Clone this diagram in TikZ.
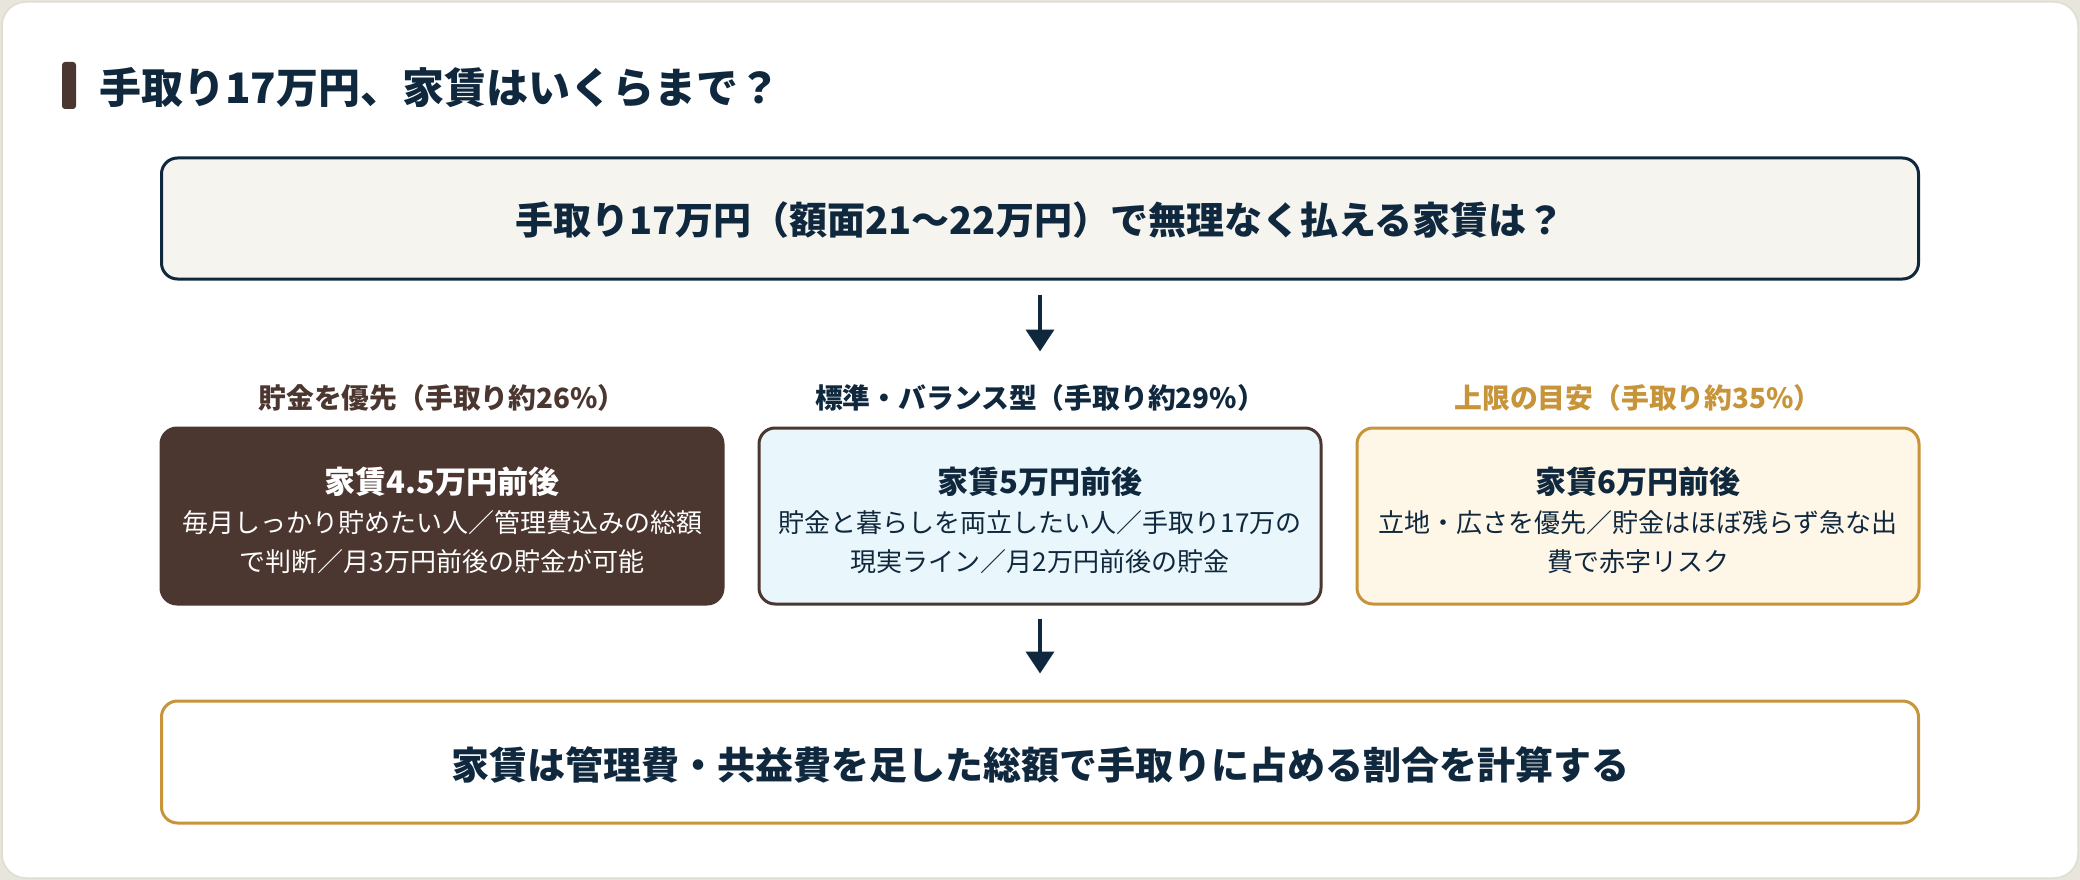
\documentclass[tikz,border=0pt]{standalone}
\usepackage{fontspec}
\setmainfont{Noto Sans CJK JP}
\usetikzlibrary{arrows.meta}
\definecolor{navy}{HTML}{10283D}
\definecolor{brown}{HTML}{4B3630}
\definecolor{gold}{HTML}{C8943A}
\definecolor{lightblue}{HTML}{E9F7FC}
\definecolor{cream}{HTML}{FEF6E7}
\definecolor{topfill}{HTML}{F5F4EF}
\definecolor{bgcol}{HTML}{E7E5DC}
\definecolor{cardline}{HTML}{E0DDD1}
\begin{document}
\begin{tikzpicture}[x=1pt,y=-1pt,
  wide/.style={line width=3pt, rounded corners=16pt, inner sep=0pt, minimum width=1757pt, minimum height=121pt},
  card/.style={line width=3pt, rounded corners=16pt, inner sep=0pt, minimum width=562pt, minimum height=176pt},
  arr/.style={draw=navy, line width=4pt, -{Triangle[length=22pt,width=28pt]}},
  bigtxt/.style={font=\fontsize{38}{44}\selectfont\bfseries, text=navy, inner sep=0pt},
  labtxt/.style={font=\fontsize{27.8}{32}\selectfont\bfseries, inner sep=0pt},
  headtxt/.style={font=\fontsize{31}{36}\selectfont\bfseries, inner sep=0pt},
  bodytxt/.style={font=\fontsize{26}{30}\selectfont, inner sep=0pt}
]
\useasboundingbox (0,0) rectangle (2080,880);
\fill[bgcol] (0,0) rectangle (2080,880);
\draw[cardline, fill=white, line width=1.5pt, rounded corners=24pt] (2,2) rectangle (2078,878);

% title
\fill[brown, rounded corners=3pt] (62,62) rectangle (76,109);
\node[anchor=west, font=\fontsize{42}{50}\selectfont\bfseries, text=navy, inner sep=0pt] (title) at (99,88) {手取り17万円、家賃はいくらまで？};

% top box
\node[wide, draw=navy, fill=topfill] (top) at (1040,218.5) {};
\node[bigtxt] (toptxt) at (1040,220) {手取り17万円（額面21〜22万円）で無理なく払える家賃は？};

% middle row
\node[card, draw=brown, fill=brown] (b1) at (442,516) {};
\node[card, draw=brown, fill=lightblue] (b2) at (1040,516) {};
\node[card, draw=gold, fill=cream] (b3) at (1638,516) {};

\node[labtxt, text=brown] (l1) at (442,398) {貯金を優先（手取り約26\%）};
\node[labtxt, text=navy] (l2) at (1040,398) {標準・バランス型（手取り約29\%）};
\node[labtxt, text=gold] (l3) at (1638,398) {上限の目安（手取り約35\%）};

\node[headtxt, text=white] (h1) at (442,482) {家賃4.5万円前後};
\node[headtxt, text=navy] (h2) at (1040,482) {家賃5万円前後};
\node[headtxt, text=navy] (h3) at (1638,482) {家賃6万円前後};

\node[bodytxt, text=white] (t1a) at (442,523) {毎月しっかり貯めたい人／管理費込みの総額};
\node[bodytxt, text=white] (t1b) at (442,562) {で判断／月3万円前後の貯金が可能};
\node[bodytxt, text=navy] (t2a) at (1040,523) {貯金と暮らしを両立したい人／手取り17万の};
\node[bodytxt, text=navy] (t2b) at (1040,562) {現実ライン／月2万円前後の貯金};
\node[bodytxt, text=navy] (t3a) at (1638,523) {立地・広さを優先／貯金はほぼ残らず急な出};
\node[bodytxt, text=navy] (t3b) at (1638,562) {費で赤字リスク};

% bottom box
\node[wide, draw=gold, fill=white, minimum height=122pt] (bot) at (1040,762) {};
\node[bigtxt] (bottxt) at (1040,765) {家賃は管理費・共益費を足した総額で手取りに占める割合を計算する};

% arrows
\draw[arr, shorten <=14pt, shorten >=75pt] (top.south) -- (b2.north);
\draw[arr, shorten <=13pt, shorten >=26pt] (b2.south) -- (bot.north);
\end{tikzpicture}
\end{document}
